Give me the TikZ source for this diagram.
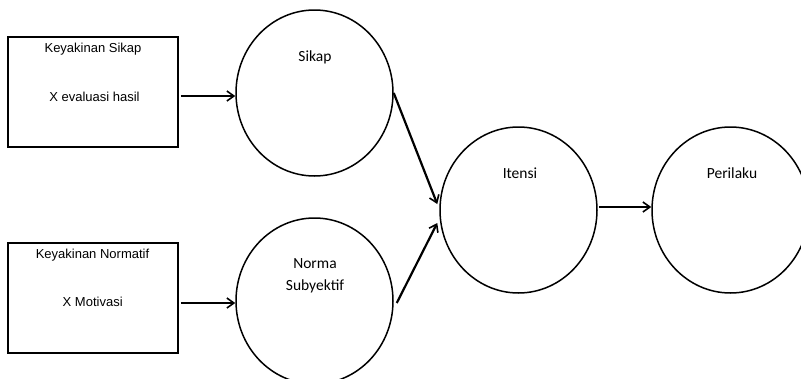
\documentclass[tikz,border=0pt]{standalone}
\usepackage{fontspec}
\newfontfamily\arialf{Liberation Sans}
\newfontfamily\calf{Carlito}
\usetikzlibrary{shapes.geometric,arrows.meta}
\begin{document}
\begin{tikzpicture}[x=1pt,y=-1pt,
  boxnode/.style={draw,line width=1.7pt,minimum width=170pt,minimum height=110pt,inner sep=0pt},
  circnode/.style={draw,ellipse,line width=1.5pt,minimum width=157pt,minimum height=166pt,inner sep=0pt},
  btext/.style={font=\arialf\fontsize{13}{16}\selectfont,inner sep=0pt},
  ctext/.style={font=\calf\fontsize{15.5}{22}\selectfont,inner sep=0pt,align=center},
  conn/.style={line width=2.2pt,-{Straight Barb[length=7pt,width=10pt,line width=1.6pt]}}]
\path[use as bounding box,clip] (0,0) rectangle (801,378);
% boxes
\node[boxnode] (box1) at (93,92) {};
\node[btext] (b1a) at (93,49) {Keyakinan Sikap};
\node[btext] (b1b) at (94.5,97) {X evaluasi hasil};
\node[boxnode] (box2) at (93,298) {};
\node[btext] (b2a) at (92.5,255) {Keyakinan Normatif};
\node[btext] (b2b) at (92.7,302) {X Motivasi};
% circles
\node[circnode] (sikap) at (314.5,93) {};
\node[ctext] (sikapt) at (315,57) {Sikap};
\node[circnode] (norma) at (314.5,301) {};
\node[ctext] (normat) at (315,276) {Norma\\Subyektif};
\node[circnode] (itensi) at (518.5,210) {};
\node[ctext] (itensit) at (520,173) {Itensi};
\node[circnode] (perilaku) at (730.5,210) {};
\node[ctext] (perilakut) at (732,173) {Perilaku};
% connectors
\draw[conn] ([xshift=2pt]box1.east |- 0,96) -- (sikap.west |- 0,96);
\draw[conn] ([xshift=2pt]box2.east |- 0,303) -- (norma.west |- 0,303);
\draw[conn] (sikap.east) -- ([xshift=-2pt,yshift=6pt]itensi.west);
\draw[conn] ([xshift=3pt,yshift=-2pt]norma.east) -- ([xshift=-2pt,yshift=-13pt]itensi.west);
\draw[conn] ([xshift=1pt,yshift=3pt]itensi.east) -- ([yshift=3pt]perilaku.west);
\end{tikzpicture}
\end{document}
